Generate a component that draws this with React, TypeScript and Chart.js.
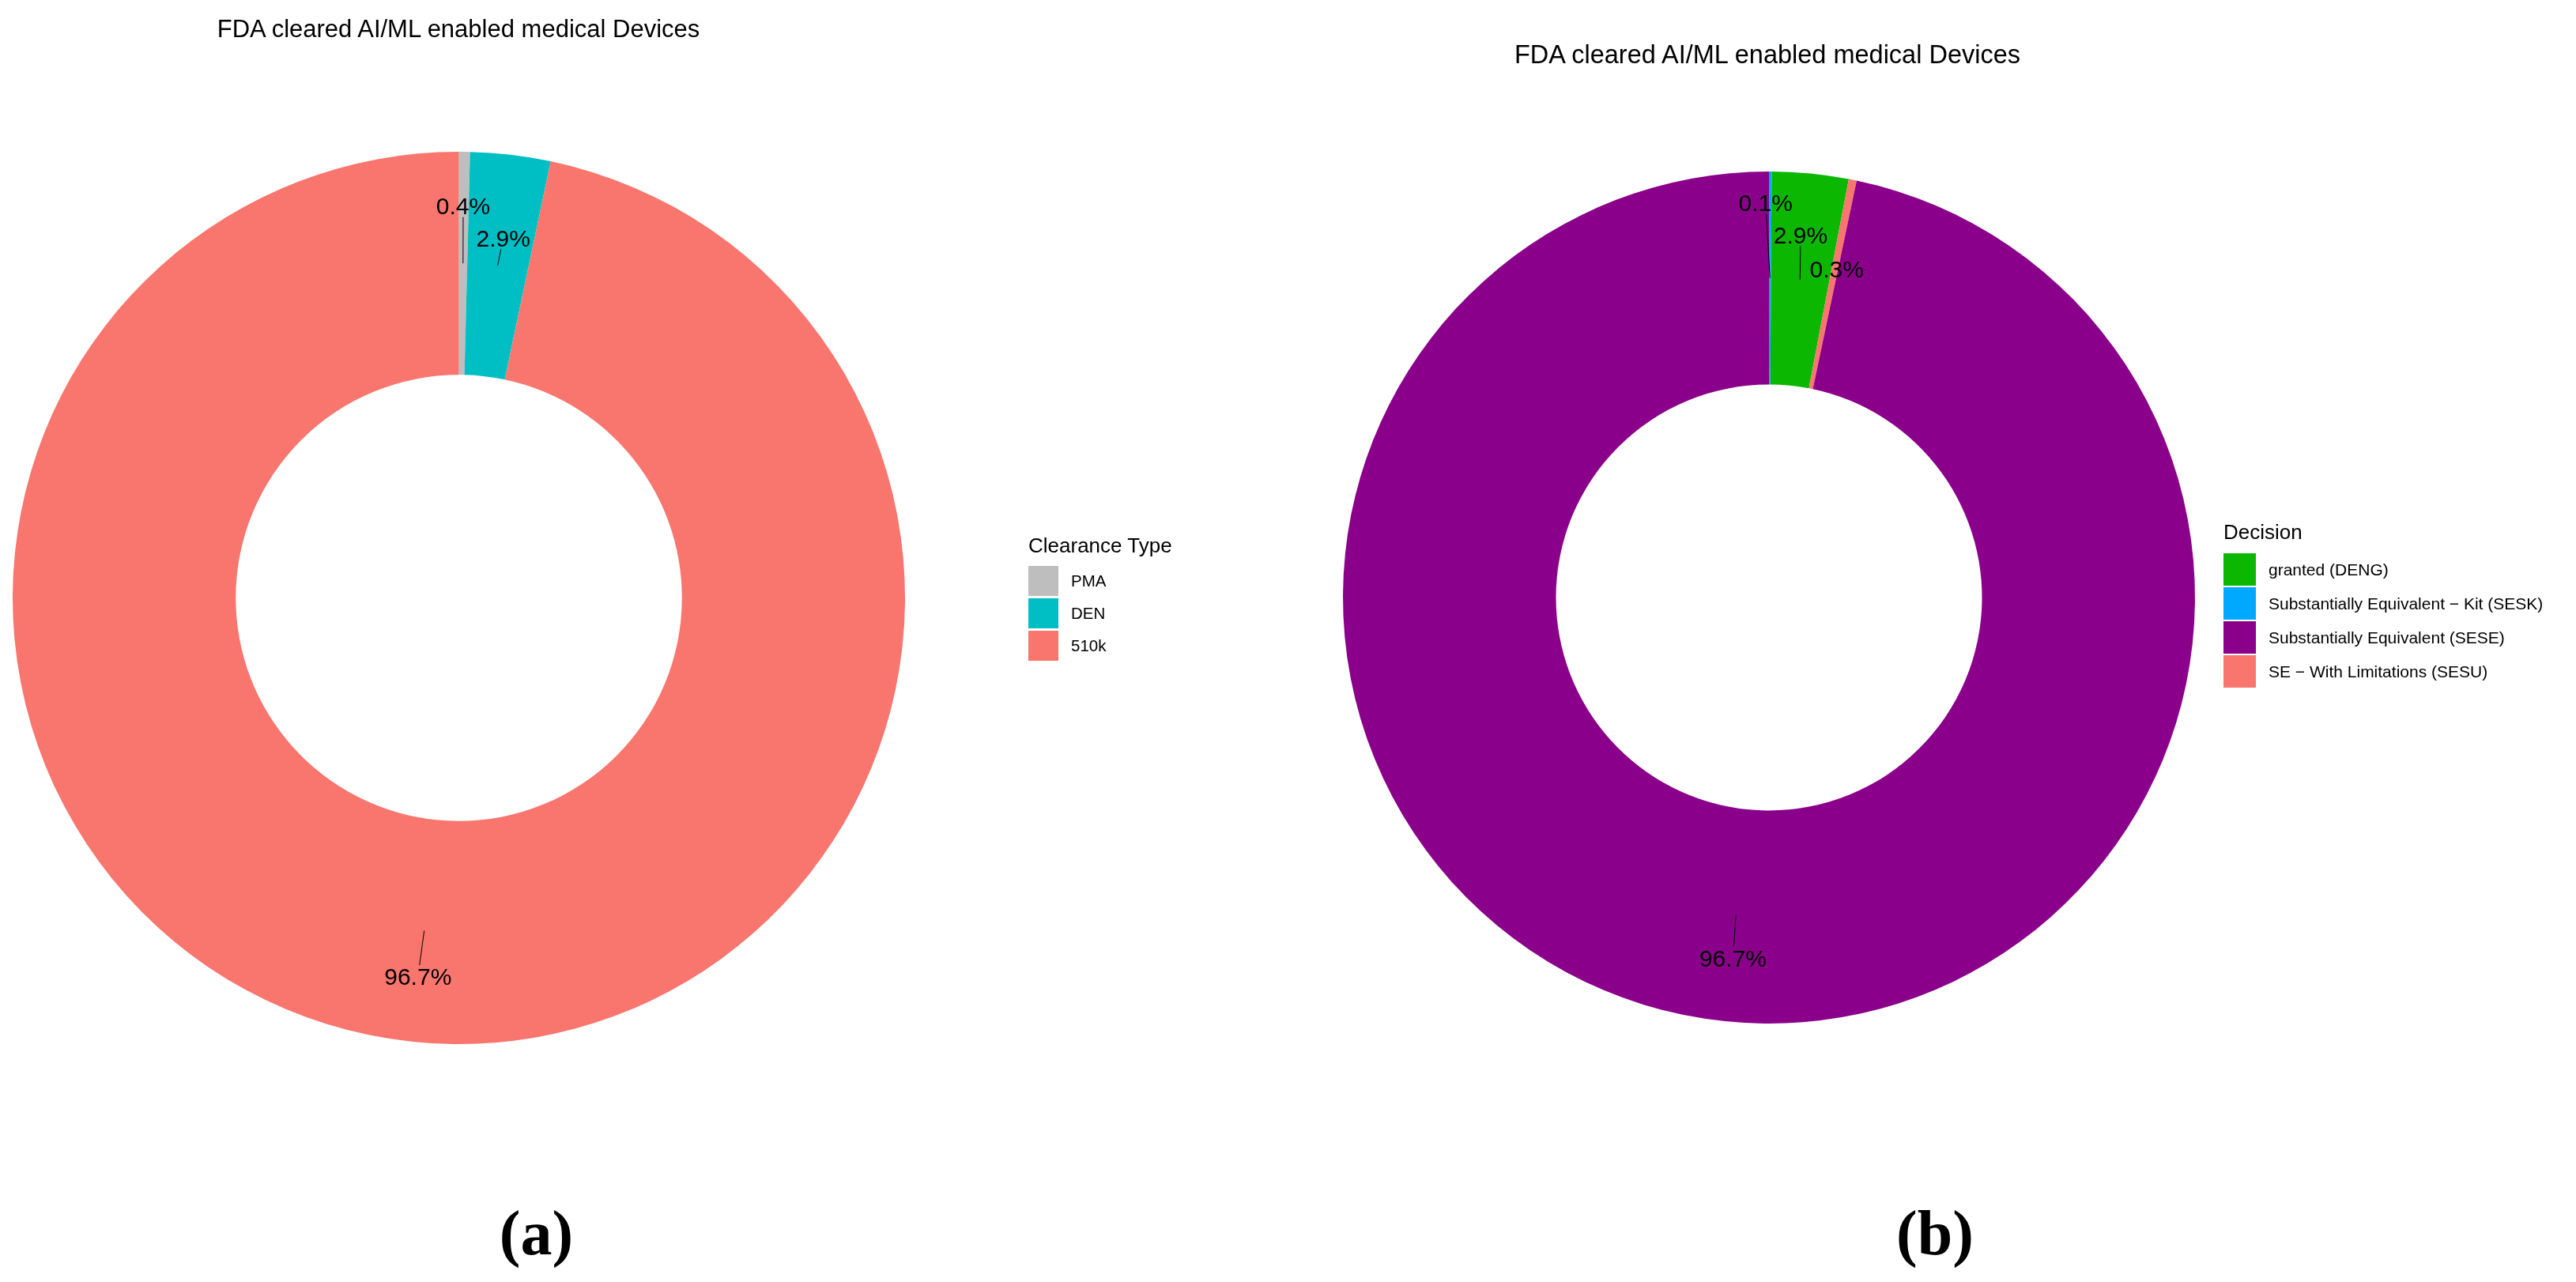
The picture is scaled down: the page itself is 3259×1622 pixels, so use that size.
import React, { useEffect, useRef } from "react";
import { Chart, registerables } from "chart.js";

Chart.register(...registerables);

// ---------------- data ----------------
const chartTitle = "FDA cleared AI/ML enabled medical Devices";

const clearanceLegendTitle = "Clearance Type";
const clearanceLabels = ["PMA", "DEN", "510k"];
const clearanceValues = [0.4, 2.9, 96.7];
const clearanceColors = ["#BEBEBE", "#00BFC4", "#F8766D"];

const decisionLegendTitle = "Decision";
const decisionLabels = [
  "granted (DENG)",
  "Substantially Equivalent \u2212 Kit (SESK)",
  "Substantially Equivalent (SESE)",
  "SE \u2212 With Limitations (SESU)",
];
const decisionValues = [2.9, 0.1, 96.7, 0.3];
const decisionColors = ["#0CB702", "#00A9FF", "#8B008B", "#F8766D"];
// clockwise order of the slices (indices into the legend-ordered arrays)
const decisionSliceOrder = [1, 0, 3, 2];

const panelCaptions = ["(a)", "(b)"];

// ---------------- layout (pixels) ----------------
const FONT = '"Liberation Sans", Arial, Helvetica, sans-serif';
const SERIF = '"Liberation Serif", "Times New Roman", serif';

// repelled label offsets (label centre minus anchor point), in slice order
const leftLabelOffsets: number[][] = [
  [0.2, -72.8],
  [7.1, -34.8],
  [-7.9, 57.8],
];
const rightLabelOffsets: number[][] = [
  [-5.5, -95.3],
  [0.7, -56.7],
  [6.3, -19.8],
  [-3.7, 53.7],
];

type Box = {
  left: number;
  top: number;
  width: number;
  height: number;
  padding: { left: number; right: number; top: number; bottom: number };
  radius: number;
};

const leftBox: Box = {
  left: 0,
  top: 0,
  width: 1630,
  height: 1622,
  padding: { left: 16, right: 485, top: 192, bottom: 301 },
  radius: 564.5,
};
const rightBox: Box = {
  left: 1630,
  top: 0,
  width: 1629,
  height: 1622,
  padding: { left: 69, right: 482, top: 217, bottom: 327 },
  radius: 539,
};

function Donut(props: {
  labels: string[];
  values: number[];
  colors: string[];
  offsets: number[][];
  box: Box;
}) {
  const { labels, values, colors, offsets, box } = props;
  const ref = useRef<HTMLCanvasElement>(null);

  useEffect(() => {
    const canvas = ref.current;
    if (!canvas) return;
    const labelPlugin = {
      id: "pctLabels",
      afterDatasetsDraw(chart: any) {
        const ctx = chart.ctx as CanvasRenderingContext2D;
        const meta = chart.getDatasetMeta(0);
        const fs = 30;
        ctx.save();
        ctx.font = `${fs}px ${FONT}`;
        ctx.fillStyle = "#000";
        ctx.strokeStyle = "#000";
        ctx.lineWidth = 1;
        meta.data.forEach((arc: any, i: number) => {
          const p = arc.getProps(["x", "y", "startAngle", "endAngle", "outerRadius"], true);
          const mid = (p.startAngle + p.endAngle) / 2;
          const r = p.outerRadius * 0.75;
          const px = p.x + Math.cos(mid) * r;
          const py = p.y + Math.sin(mid) * r;
          const [ox, oy] = offsets[i];
          const cx = px + ox;
          const cy = py + oy;
          const text = values[i].toFixed(1) + "%";
          const w = ctx.measureText(text).width;
          const capH = fs * 0.716;
          const hw = w / 2 + 3;
          const hh = capH / 2 + 3.5;
          const dx = px - cx;
          const dy = py - cy;
          const tx = dx === 0 ? Infinity : hw / Math.abs(dx);
          const ty = dy === 0 ? Infinity : hh / Math.abs(dy);
          const t = Math.min(tx, ty);
          const len = Math.hypot(dx, dy) * (1 - t);
          if (t < 1 && len > 8) {
            ctx.beginPath();
            ctx.moveTo(cx + dx * t, cy + dy * t);
            ctx.lineTo(px, py);
            ctx.stroke();
          }
          ctx.textAlign = "center";
          ctx.textBaseline = "alphabetic";
          ctx.fillText(text, cx, cy + capH / 2);
        });
        ctx.restore();
      },
    };

    const chart = new Chart(canvas, {
      type: "doughnut",
      data: {
        labels,
        datasets: [
          {
            data: values,
            backgroundColor: colors,
            borderWidth: 0,
            hoverOffset: 0,
          },
        ],
      },
      options: {
        responsive: false,
        animation: false,
        devicePixelRatio: 1,
        events: [],
        radius: box.radius,
        cutout: "50%",
        layout: { padding: box.padding },
        plugins: {
          legend: { display: false },
          title: { display: false },
          tooltip: { enabled: false },
        },
      } as any,
      plugins: [labelPlugin],
    });
    return () => chart.destroy();
  }, []);

  return (
    <canvas
      ref={ref}
      width={box.width}
      height={box.height}
      style={{
        position: "absolute",
        left: box.left,
        top: box.top,
        width: box.width,
        height: box.height,
        display: "block",
      }}
    />
  );
}

function Legend(props: {
  title: string;
  labels: string[];
  colors: string[];
  x: number;
  titleTop: number;
  titleSize: number;
  firstTop: number;
  swatch: number;
  step: number;
  labelX: number;
  labelSize: number;
}) {
  const p = props;
  return (
    <>
      <div
        style={{
          position: "absolute",
          left: p.x,
          top: p.titleTop,
          fontFamily: FONT,
          fontSize: p.titleSize,
          lineHeight: 1,
          whiteSpace: "nowrap",
          color: "#000",
        }}
      >
        {p.title}
      </div>
      {p.labels.map((lab, i) => (
        <React.Fragment key={lab}>
          <div
            style={{
              position: "absolute",
              left: p.x,
              top: p.firstTop + i * p.step,
              width: p.swatch,
              height: p.swatch,
              background: p.colors[i],
            }}
          />
          <div
            style={{
              position: "absolute",
              left: p.labelX,
              top: p.firstTop + i * p.step + p.swatch / 2 - p.labelSize / 2,
              fontFamily: FONT,
              fontSize: p.labelSize,
              lineHeight: 1,
              whiteSpace: "nowrap",
              color: "#000",
            }}
          >
            {lab}
          </div>
        </React.Fragment>
      ))}
    </>
  );
}

function CenteredText(props: {
  text: string;
  cx: number;
  top: number;
  size: number;
  family: string;
  bold?: boolean;
}) {
  return (
    <div
      style={{
        position: "absolute",
        left: props.cx,
        top: props.top,
        transform: "translateX(-50%)",
        fontFamily: props.family,
        fontSize: props.size,
        fontWeight: props.bold ? "bold" : "normal",
        lineHeight: 1,
        whiteSpace: "nowrap",
        color: "#000",
      }}
    >
      {props.text}
    </div>
  );
}

export default function App() {
  const rightLabels = decisionSliceOrder.map((i) => decisionLabels[i]);
  const rightValues = decisionSliceOrder.map((i) => decisionValues[i]);
  const rightColors = decisionSliceOrder.map((i) => decisionColors[i]);

  return (
    <div
      style={{
        position: "absolute",
        left: 0,
        top: 0,
        width: 3259,
        height: 1622,
        overflow: "hidden",
        background: "#fff",
      }}
    >
      <Donut
        labels={clearanceLabels}
        values={clearanceValues}
        colors={clearanceColors}
        offsets={leftLabelOffsets}
        box={leftBox}
      />
      <Donut
        labels={rightLabels}
        values={rightValues}
        colors={rightColors}
        offsets={rightLabelOffsets}
        box={rightBox}
      />

      <CenteredText text={chartTitle} cx={580} top={21} size={31} family={FONT} />
      <CenteredText text={chartTitle} cx={2236} top={53} size={32.5} family={FONT} />

      <Legend
        title={clearanceLegendTitle}
        labels={clearanceLabels}
        colors={clearanceColors}
        x={1301}
        titleTop={677}
        titleSize={26}
        firstTop={716}
        swatch={38}
        step={41}
        labelX={1355}
        labelSize={20.5}
      />
      <Legend
        title={decisionLegendTitle}
        labels={decisionLabels}
        colors={decisionColors}
        x={2813}
        titleTop={660}
        titleSize={26}
        firstTop={700}
        swatch={41}
        step={43}
        labelX={2870}
        labelSize={21}
      />

      <CenteredText text={panelCaptions[0]} cx={678.5} top={1520} size={80} family={SERIF} bold />
      <CenteredText text={panelCaptions[1]} cx={2448} top={1520} size={80} family={SERIF} bold />
    </div>
  );
}
